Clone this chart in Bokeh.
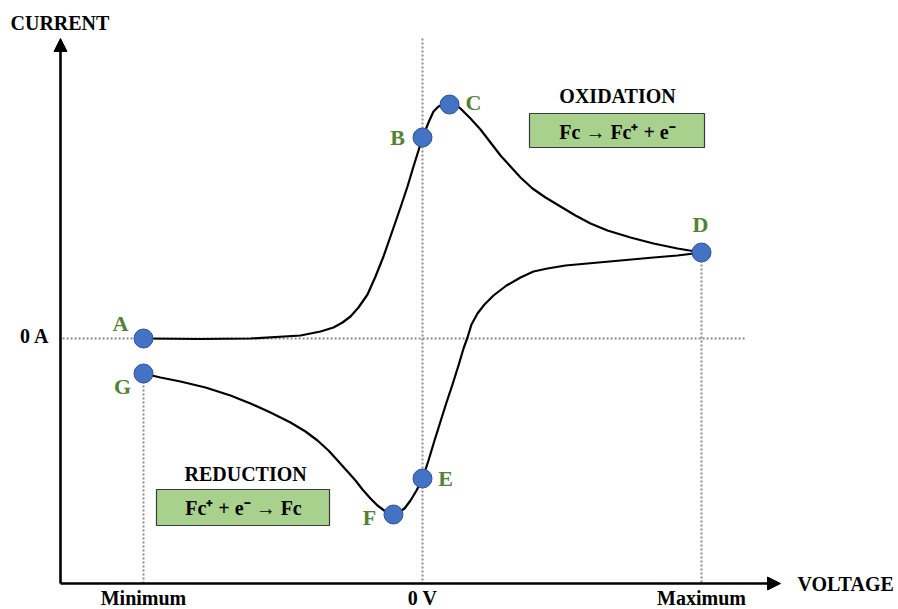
from bokeh.plotting import figure
from bokeh.models import Range1d, Arrow, NormalHead, ColumnDataSource
from bokeh.core.properties import value
from bokeh.embed import file_html
from bokeh.resources import INLINE

# ---------------- data (voltage in units of the sweep half-range, current in arbitrary units) ----
tick_labels = ["Minimum", "0 V", "Maximum"]
tick_voltage = [-1.0, 0.0, 1.0]

point_names = ["A", "B", "C", "D", "E", "F", "G"]
point_voltage = [-1.0, 0.0, 0.097, 1.0, 0.0, -0.104, -1.0]
point_current = [0.0, 2.01, 2.34, 0.86, -1.40, -1.76, -0.35]

forward_voltage = [-1.0, -0.7957, -0.6165, -0.4373, -0.3656, -0.3190, -0.2867, -0.2581, -0.2294,
                   -0.1971, -0.1685, -0.1398, -0.1111, -0.0789, -0.0538, -0.0323, -0.0143, 0.0,
                   0.0215, 0.0394, 0.0573, 0.0753, 0.0968, 0.1183, 0.1362, 0.1720, 0.2079, 0.2437,
                   0.2796, 0.3154, 0.3513, 0.3943, 0.4409, 0.4946, 0.5484, 0.6022, 0.6631, 0.7455,
                   0.8280, 0.9140, 1.0]
forward_current = [0.0, -0.005, 0.0, 0.03, 0.07, 0.11, 0.16, 0.22, 0.31,
                   0.44, 0.62, 0.82, 1.05, 1.31, 1.52, 1.72, 1.88, 2.01,
                   2.16, 2.27, 2.32, 2.34, 2.35, 2.34, 2.30, 2.20, 2.09, 1.96,
                   1.83, 1.72, 1.61, 1.50, 1.41, 1.32, 1.23, 1.15, 1.08, 1.01,
                   0.95, 0.90, 0.86]

reverse_voltage = [1.0, 0.9140, 0.8280, 0.7097, 0.5914, 0.5125, 0.4480, 0.3978, 0.3513, 0.3011,
                   0.2545, 0.2222, 0.1971, 0.1756, 0.1613, 0.1470, 0.1290, 0.1075, 0.0860, 0.0645,
                   0.0430, 0.0215, 0.0, -0.0215, -0.0430, -0.0645, -0.0860, -0.1039, -0.1326,
                   -0.1613, -0.1864, -0.2151, -0.2401, -0.2688, -0.3011, -0.3369, -0.3763, -0.4194,
                   -0.4731, -0.5448, -0.6165, -0.6882, -0.7778, -0.8674, -0.9391, -1.0]
reverse_current = [0.86, 0.83, 0.81, 0.78, 0.75, 0.73, 0.70, 0.67, 0.61, 0.53,
                   0.43, 0.34, 0.25, 0.14, 0.01, -0.10, -0.27, -0.46, -0.64, -0.83,
                   -1.02, -1.22, -1.40, -1.52, -1.62, -1.70, -1.74, -1.76, -1.73,
                   -1.67, -1.60, -1.51, -1.42, -1.33, -1.23, -1.12, -1.02, -0.93,
                   -0.84, -0.74, -0.65, -0.57, -0.49, -0.43, -0.39, -0.35]

label_dx = [-23, -25, 24, -1, 23, -24, -21]
label_dy = [-15, 0, -2, -28, 0, 3, 13]

# ---------------- styling / layout ----------------
FONT = value("Liberation Serif")
GREEN = "#538135"
DOT = "#8c8c8c"

W, H = 898, 609
p = figure(width=W, height=H, output_backend="svg", toolbar_location=None,
           x_range=Range1d(-1.51254, 1.70609), y_range=Range1d(-2.71, 3.38),
           x_axis_location=None, y_axis_location=None, min_border=0,
           background_fill_color="white", border_fill_color="white")
p.grid.visible = False
p.outline_line_color = None

AX_V = -1.2975     # y-axis position (voltage units)
AX_I = -2.45       # x-axis position (current units)
TOP_I = 3.00
RIGHT_V = 1.2832

# dotted guide lines
p.segment(x0=[-1.29, 0.0, tick_voltage[0], tick_voltage[2]],
          y0=[0.0, TOP_I, point_current[6], point_current[3]],
          x1=[1.158, 0.0, tick_voltage[0], tick_voltage[2]],
          y1=[0.0, AX_I, AX_I, AX_I],
          line_color=DOT, line_width=2, line_dash="2 2")

# curves
p.line(forward_voltage, forward_current, line_color="black", line_width=2.2, line_join="round")
p.line(reverse_voltage, reverse_current, line_color="black", line_width=2.2, line_join="round")

# axes as arrows
p.add_layout(Arrow(end=NormalHead(size=13, fill_color="black", line_color="black"),
                   x_start=AX_V, y_start=AX_I, x_end=AX_V, y_end=TOP_I,
                   line_width=2.6, line_color="black"))
p.add_layout(Arrow(end=NormalHead(size=13, fill_color="black", line_color="black"),
                   x_start=AX_V, y_start=AX_I, x_end=RIGHT_V, y_end=AX_I,
                   line_width=2.6, line_color="black"))

# boxes
p.quad(left=[0.3835, -0.9534], right=[1.0108, -0.3333], top=[2.25, -1.51], bottom=[1.91, -1.87],
       fill_color="#a9d18e", line_color="#3a3a3a", line_width=1.2)

# points
src = ColumnDataSource(dict(v=point_voltage, i=point_current, name=point_names,
                            dx=label_dx, dy=label_dy))
p.scatter("v", "i", source=src, size=19, fill_color="#4472c4", line_color="#2f528f", line_width=1)
p.text("v", "i", text="name", source=src, x_offset="dx", y_offset="dy",
       text_font=FONT, text_font_style="bold", text_font_size="22px", text_color=GREEN,
       text_align="center", text_baseline="middle")

# axis texts
common = dict(text_font=FONT, text_font_style="bold", text_font_size="20px", text_color="black",
              text_baseline="middle")
p.text(x=tick_voltage, y=[AX_I] * 3, text=tick_labels, y_offset=14, text_align="center", **common)
p.text(x=[-1.4767], y=[3.16], text=["CURRENT"], text_align="left", **common)
p.text(x=[1.344], y=[AX_I], text=["VOLTAGE"], text_align="left", **common)
p.text(x=[-1.337], y=[0.03], text=["0 A"], text_align="right", **common)

# annotations
p.text(x=[0.699, -0.634], y=[2.43, -1.35], text=["OXIDATION", "REDUCTION"], text_align="center", **common)
p.text(x=[0.699, -0.6416], y=[2.07, -1.69], text=["Fc \u2192 Fc\u207a + e\u207b", "Fc\u207a + e\u207b \u2192 Fc"],
       text_align="center", **common)

open("out.html", "w").write(file_html(p, INLINE))
